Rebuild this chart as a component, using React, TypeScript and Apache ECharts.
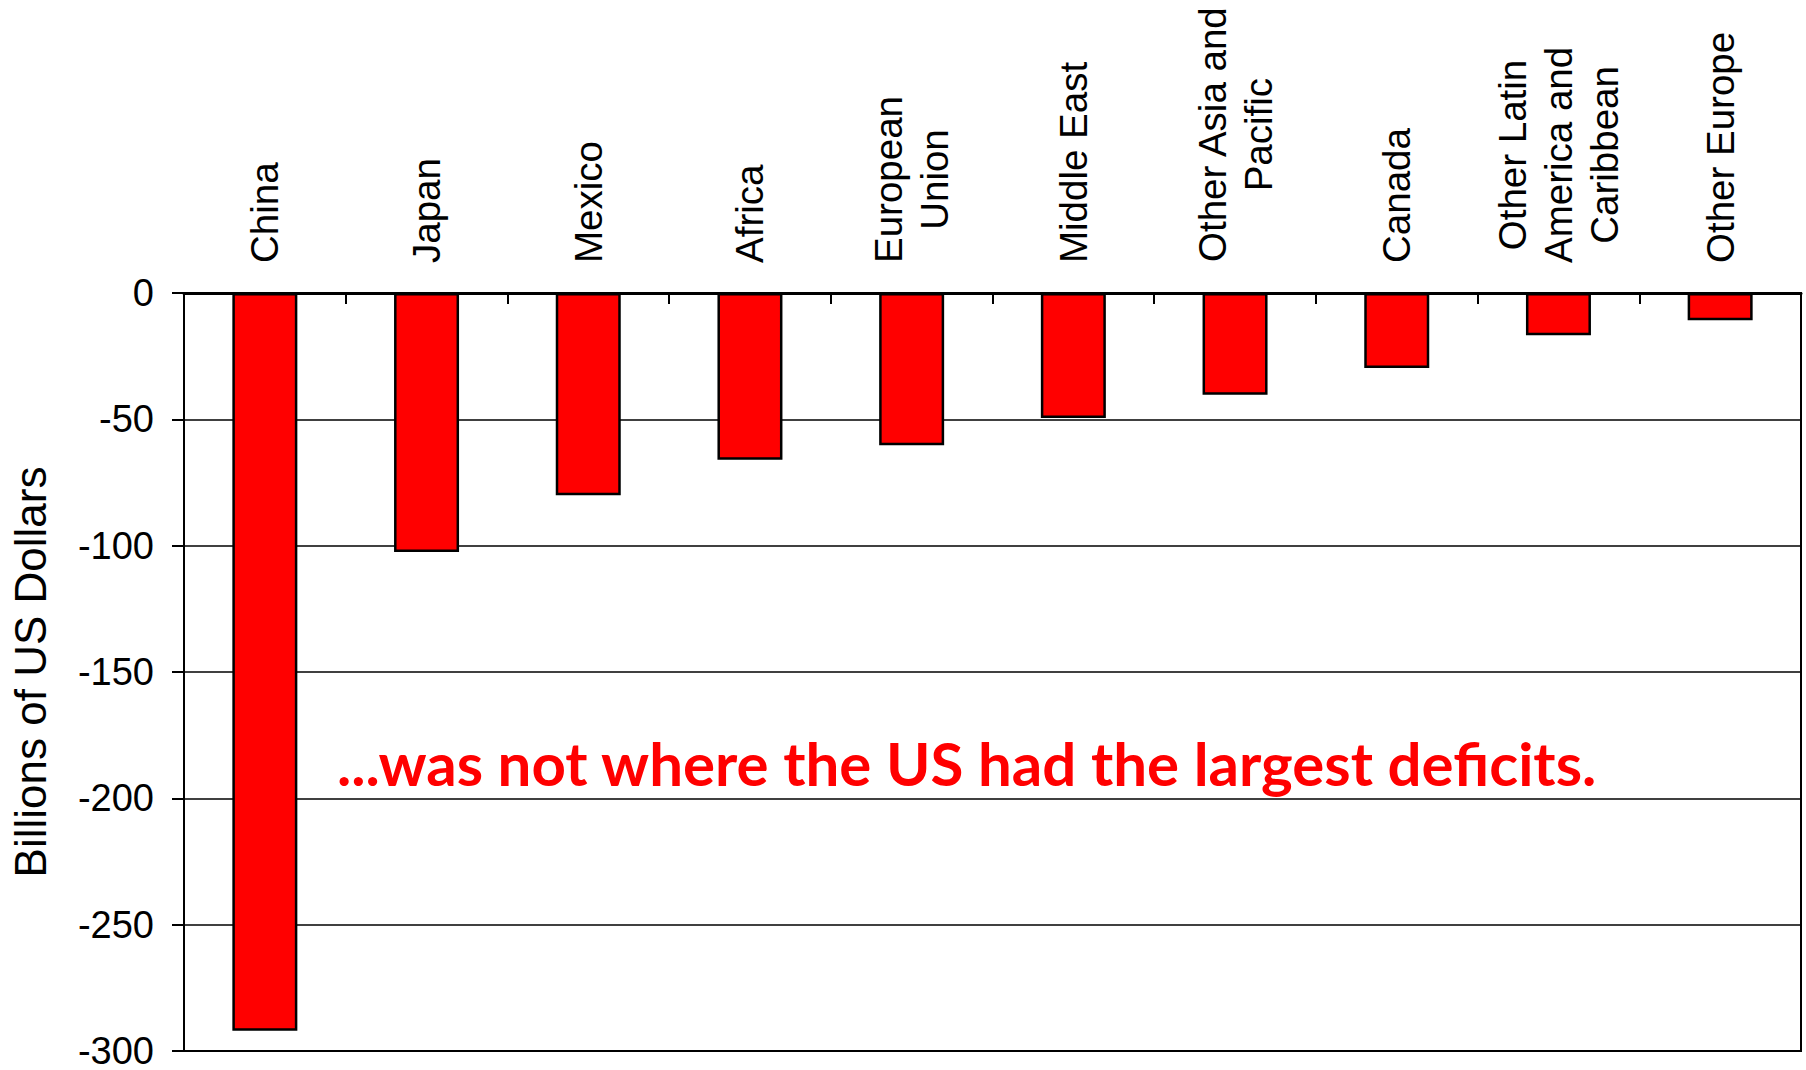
import React, { useEffect, useRef } from "react";
import * as echarts from "echarts";

const categories = [
  "China",
  "Japan",
  "Mexico",
  "Africa",
  "European\nUnion",
  "Middle East",
  "Other Asia and\nPacific",
  "Canada",
  "Other Latin\nAmerica and\nCaribbean",
  "Other Europe",
];
const deficits = [-292, -102.5, -80, -66, -60.3, -49.5, -40.3, -29.7, -16.7, -10.8];
const yTickValues = [0, -50, -100, -150, -200, -250, -300];
const yAxisTitle = "Billions of US Dollars";
const annotation = "...was not where the US had the largest deficits.";

const FONT = "'Liberation Sans', Arial, sans-serif";

export default function App() {
  const ref = useRef<HTMLDivElement>(null);
  useEffect(() => {
    if (!ref.current) return;
    const chart = echarts.init(ref.current, undefined, { renderer: "svg" });
    const yMin = Math.min(...yTickValues);
    const yMax = Math.max(...yTickValues);
    chart.setOption({
      animation: false,
      backgroundColor: "#ffffff",
      grid: {
        left: 182,
        right: 5,
        top: 293,
        bottom: 17,
        show: true,
        borderColor: "#000",
        borderWidth: 2,
        backgroundColor: "transparent",
      },
      xAxis: {
        type: "category",
        position: "top",
        data: categories,
        boundaryGap: true,
        axisLine: { show: true, onZero: false, lineStyle: { color: "#000", width: 3 } },
        axisTick: { show: true, inside: true, length: 11, lineStyle: { color: "#000", width: 2 } },
        splitLine: { show: false },
        axisLabel: {
          interval: 0,
          rotate: -90,
          margin: 30,
          color: "#000",
          fontFamily: FONT,
          fontSize: 38.5,
          lineHeight: 46,
          formatter: (v: string) => v.split("\n").map((l) => `{c|${l}}`).join("\n"),
          rich: {
            c: { align: "center", fontFamily: FONT, fontSize: 38.5, lineHeight: 46, color: "#000" },
          },
        },
      },
      yAxis: {
        type: "value",
        min: yMin,
        max: yMax,
        interval: 50,
        name: yAxisTitle,
        nameLocation: "middle",
        nameGap: 132,
        nameTextStyle: { fontFamily: FONT, fontSize: 44, color: "#000" },
        axisLine: { show: true, lineStyle: { color: "#000", width: 2 } },
        axisTick: { show: true, inside: false, length: 12, lineStyle: { color: "#000", width: 2 } },
        splitLine: { show: true, lineStyle: { color: "#000", width: 1.5 } },
        axisLabel: { margin: 30, color: "#000", fontFamily: FONT, fontSize: 38, lineHeight: 30 },
      },
      series: [
        {
          type: "bar",
          data: deficits,
          barWidth: 65,
          itemStyle: { color: "#ff0000", borderColor: "#000", borderWidth: 2.5 },
        },
      ],
      graphic: [
        {
          type: "text",
          left: 337,
          top: 733,
          style: {
            text: annotation,
            fill: "#ff0000",
            fontFamily: "Lato, 'Noto Sans', sans-serif",
            fontWeight: "bold",
            fontSize: 60,
          },
        },
      ],
    });
    return () => chart.dispose();
  }, []);
  return (
    <div
      ref={ref}
      style={{ position: "fixed", left: 0, top: 0, width: 1806, height: 1070, background: "#fff" }}
    />
  );
}
